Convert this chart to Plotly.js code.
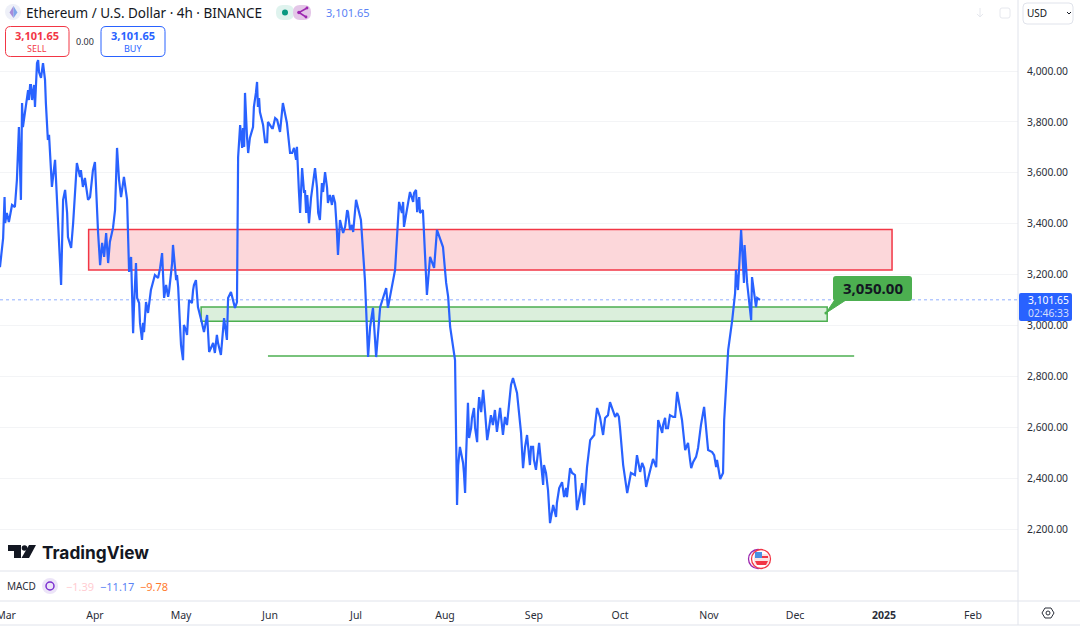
<!DOCTYPE html>
<html><head><meta charset="utf-8">
<script src="https://cdn.plot.ly/plotly-3.0.1.min.js"></script>
<style>html,body{margin:0;padding:0;background:#fff;overflow:hidden}#c{width:1080px;height:626px}</style>
</head><body><div id="c"></div>
<script>
// Days since 2024-03-01 and the ETH/USD close
const dayOffsets = [-2.1,-1.4,-1.0,-0.5,-0.3,0.3,1.0,2.1,3.1,3.8,4.5,5.2,5.6,5.9,7.3,8.4,9.1,10.1,10.8,11.2,11.9,12.9,13.6,13.9,14.3,15.3,16.0,17.1,17.8,18.1,19.2,19.9,20.6,21.3,21.6,22.7,23.4,24.7,26.5,27.5,28.6,29.3,31.0,31.7,32.1,32.8,33.5,34.2,34.9,35.6,36.2,37.3,38.0,38.7,39.4,40.1,41.1,42.2,42.5,42.9,43.6,44.3,45.3,45.7,46.4,47.4,49.1,49.5,50.5,51.9,53.0,54.4,55.1,55.8,56.5,57.9,58.2,59.3,60.0,60.6,61.0,61.7,62.0,62.7,63.8,65.2,66.2,66.9,68.3,69.0,70.1,70.8,72.2,73.5,74.9,76.0,77.0,77.4,78.4,79.8,80.5,80.9,81.6,82.3,83.3,84.4,86.1,87.5,88.5,90.3,91.3,92.7,94.5,95.5,96.5,97.9,99.0,101.4,102.5,103.2,104.2,105.6,106.7,107.7,109.4,111.2,112.2,114.0,115.7,116.4,117.5,118.9,121.0,122.0,123.7,125.1,126.2,126.9,127.9,129.0,130.4,132.5,133.1,135.6,136.3,137.0,138.7,140.8,142.9,144.3,145.3,146.4,146.7,147.8,149.2,150.2,151.3,152.3,153.4,154.1,154.8,156.5,157.2,158.2,160.0,161.0,161.4,163.1,164.2,164.9,165.6,166.3,167.7,169.0,170.4,171.1,172.2,173.2,175.0,176.0,176.7,178.1,179.5,180.2,181.6,182.6,183.7,184.7,185.8,187.2,187.5,188.9,189.6,190.7,191.7,193.8,194.5,196.6,198.3,199.0,200.8,201.5,202.5,203.6,205.3,206.0,208.1,210.5,213.0,214.0,215.1,216.5,217.8,219.9,221.0,222.4,223.1,224.8,225.5,226.6,227.3,228.7,229.7,230.7,231.4,233.2,233.9,235.6,236.7,237.7,238.8,241.2,242.2,243.3,244.7,246.1,247.5,248.9,249.9,250.3,251.3,251.7,253.1,254.1,254.4,255.1,256.2,256.9,257.2,257.4,258.3,259.7,260.0,261.4,261.8,262.8];
const prices = [3230,3297,3344,3505,3403,3443,3407,3474,3466,3572,3780,3494,3874,3780,3898,3945,3886,3859,4031,4043,3976,4031,3965,3874,3749,3690,3545,3651,3494,3427,3160,3494,3533,3443,3348,3305,3403,3639,3560,3580,3494,3505,3643,3454,3364,3238,3325,3270,3364,3246,3329,3384,3454,3698,3572,3505,3584,3494,3364,3211,3270,2971,3246,3109,3089,2944,3073,3050,3140,3199,3187,3285,3109,3160,3113,3246,3317,3179,3152,3011,2924,2865,3003,2983,3101,3140,3179,3073,3011,2975,3042,2897,2932,2964,2885,3030,2944,3109,3132,3070,3093,3662,3788,3698,3914,3678,3780,3957,3839,3721,3800,3776,3808,3761,3874,3796,3678,3702,3443,3619,3533,3403,3533,3619,3415,3603,3482,3513,3278,3415,3364,3454,3368,3494,3415,3179,2877,2995,3070,2877,3073,3148,3070,3219,3376,3486,3388,3525,3533,3443,3454,3168,3121,3270,3227,3376,3337,3309,3168,3113,2995,2865,2296,2524,2343,2697,2559,2677,2543,2720,2661,2748,2551,2649,2669,2583,2677,2571,2657,2767,2795,2736,2579,2441,2571,2453,2524,2434,2540,2375,2453,2355,2225,2296,2249,2386,2327,2441,2414,2276,2382,2296,2445,2551,2610,2677,2571,2700,2657,2598,2453,2343,2422,2492,2426,2441,2367,2453,2477,2445,2630,2579,2638,2598,2649,2642,2740,2630,2512,2540,2441,2520,2610,2681,2512,2504,2445,2398,2422,2630,2838,2905,3022,3128,3219,3140,3376,3250,3168,3317,3168,3022,3191,3073,3109,3101.65];
const swingDays = [7.7,8.0,8.7,9.8,11.5,12.2,14.6,15.0,25.8,26.1,26.8,28.2,30.3,44.6,46.7,47.8,48.1,48.8,51.2,53.7,56.8,59.6,63.1,64.8,65.5,72.5,72.8,73.9,82.6,83.0,83.6,84.0,85.0,86.4,87.1,87.8,88.2,89.6,90.0,91.0,93.0,93.8,99.7,100.4,101.1,102.1,103.9,104.6,105.0,106.3,107.0,108.4,108.8,110.1,110.5,111.9,112.9,113.6,114.7,115.3,118.2,119.2,119.9,120.6,138.0,138.4,140.1,141.9,142.2,143.3,144.0,157.6,159.3,159.6,160.3,162.1,162.4,163.5,164.5,167.0,168.0,168.7,169.7,173.9,174.6,180.9,183.0,184.0,188.2,192.0,192.8,195.2,195.5,197.3,204.2,205.0,207.0,207.6,208.8,209.8,211.6,212.3,213.6,216.8,219.2,221.7,224.1,229.0,230.0,232.5,238.4,239.5,240.5,246.8,247.8];
const swingPrices = [3925,3886,3945,3945,3996,3973,3729,3749,3584,3611,3545,3533,3611,3073,3011,3011,2975,3093,3168,3226,3132,3199,2964,3089,3160,2905,2893,2932,3776,3702,3800,3741,3737,3859,3914,3859,3894,3788,3749,3721,3776,3815,3678,3698,3651,3525,3521,3443,3513,3501,3560,3541,3443,3560,3525,3541,3513,3474,3482,3376,3388,3446,3376,3396,3443,3486,3482,3486,3521,3446,3505,2453,2461,2422,2473,2598,2638,2598,2657,2657,2571,2618,2610,2642,2610,2524,2524,2473,2422,2304,2363,2363,2327,2422,2559,2571,2642,2610,2638,2649,2669,2642,2642,2363,2414,2461,2414,2610,2598,2642,2473,2465,2485,2492,2473];

const lastPrice = 3101.65;
const targetPrice = 3050;
const resistanceZone = {from:28.8, to:308.8, low:3219, high:3378};
const supportZone = {from:68, to:286.2, low:3018, high:3073};
const floorLine = {from:91.3, to:295.6, price:2881};

const monthTicks = ['2024-03-01','2024-04-01','2024-05-01','2024-06-01','2024-07-01','2024-08-01','2024-09-01','2024-10-01','2024-11-01','2024-12-01','2025-01-01','2025-02-01'];
const monthLabels = ['Mar','Apr','May','Jun','Jul','Aug','Sep','Oct','Nov','Dec','<b>2025</b>','Feb'];
const priceTicks = [2200,2400,2600,2800,3000,3200,3400,3600,3800,4000];

const W=1080,H=626;
const BASE=Date.UTC(2024,2,1);
const toDate=d=>new Date(BASE+d*86400000).toISOString().slice(0,19).replace('T',' ');
const px=x=>x/W, py=y=>1-y/H;
const UI='"Noto Sans", "Open Sans", sans-serif';
const BLUE='#2962ff',RED='#f23645',GREEN='#4caf50',FRAME='#e0e3eb';

function poly(pts,close=true){return pts.map((p,i)=>(i?'L':'M')+px(p[0]).toFixed(5)+','+py(p[1]).toFixed(5)).join(' ')+(close?' Z':'');}
function rrect(x0,y0,x1,y1,r){
  const X=px,Y=py;
  return `M${X(x0+r)},${Y(y0)} L${X(x1-r)},${Y(y0)} Q${X(x1)},${Y(y0)} ${X(x1)},${Y(y0+r)} L${X(x1)},${Y(y1-r)} Q${X(x1)},${Y(y1)} ${X(x1-r)},${Y(y1)} L${X(x0+r)},${Y(y1)} Q${X(x0)},${Y(y1)} ${X(x0)},${Y(y1-r)} L${X(x0)},${Y(y0+r)} Q${X(x0)},${Y(y0)} ${X(x0+r)},${Y(y0)} Z`;
}
const chrome=(path,fill,line,lw=1)=>({type:'path',xref:'paper',yref:'paper',path,fillcolor:fill||'rgba(0,0,0,0)',line:{color:line||'rgba(0,0,0,0)',width:line?lw:0},layer:'above'});
const circle=(cx,cy,r,fill,line,lw=1)=>({type:'circle',xref:'paper',yref:'paper',x0:px(cx-r),x1:px(cx+r),y0:py(cy+r),y1:py(cy-r),fillcolor:fill||'rgba(0,0,0,0)',line:{color:line||'rgba(0,0,0,0)',width:line?lw:0},layer:'above'});
const hline=(y,x0,x1,c=FRAME)=>({type:'line',xref:'paper',yref:'paper',x0:px(x0),x1:px(x1),y0:py(y),y1:py(y),line:{color:c,width:1},layer:'above'});
const vline=(x,y0,y1,c=FRAME)=>({type:'line',xref:'paper',yref:'paper',x0:px(x),x1:px(x),y0:py(y0),y1:py(y1),line:{color:c,width:1},layer:'above'});

const shapes=[
  {type:'rect',xref:'x',yref:'y',x0:toDate(resistanceZone.from),x1:toDate(resistanceZone.to),y0:resistanceZone.low,y1:resistanceZone.high,fillcolor:'rgba(242,54,69,0.2)',line:{color:RED,width:1.5},layer:'below'},
  {type:'rect',xref:'x',yref:'y',x0:toDate(supportZone.from),x1:toDate(supportZone.to),y0:supportZone.low,y1:supportZone.high,fillcolor:'rgba(76,175,80,0.2)',line:{color:GREEN,width:1.5},layer:'below'},
  {type:'line',xref:'x',yref:'y',x0:toDate(floorLine.from),x1:toDate(floorLine.to),y0:floorLine.price,y1:floorLine.price,line:{color:GREEN,width:1.5},layer:'below'},
  {type:'line',xref:'paper',yref:'y',x0:0,x1:px(1018),y0:lastPrice,y1:lastPrice,line:{color:'#2962ff',width:1,dash:'dot'},opacity:.5,layer:'below'},
  hline(571,0,1018),hline(601,0,1080),hline(625,0,1080),vline(1018,0,625),
  chrome(poly([[826,313],[836,298],[846,300]]),GREEN,GREEN,1),
  chrome(rrect(833,276,912,301,3),GREEN),
  circle(826,313,1.6,GREEN),
  chrome(rrect(1019,293,1072,321,2),BLUE),
  circle(13,12,8,'#eef0f8'),
  chrome(poly([[13.5,6],[9.5,12.5],[13.5,18]]),'#a78bda'),
  chrome(poly([[13.5,6],[17.5,12.5],[13.5,18]]),'#7fa4ea'),
  chrome(rrect(276,5,294,20,7),'#dff3ee'),
  chrome(rrect(293,5,311,20,7),'#e4c6e8'),
  circle(285,12.5,3,'#089981'),
  chrome(poly([[307,8],[299,12.5],[306,17]],false),null,'#9c27b0',1.5),
  circle(299,12.5,1.8,'#9c27b0'),circle(307,8,1.4,'#9c27b0'),circle(306,17,1.4,'#9c27b0'),
  chrome(rrect(5.5,26.5,69,56.5,5),'#fff',RED),
  chrome(rrect(101,26.5,165,56.5,5),'#fff',BLUE),
  chrome(rrect(1023,3,1073,24,4),'#fff',FRAME),
  chrome(poly([[1067,12],[1069,14],[1071,12]],false),null,'#131722',1),
  chrome(poly([[980,8],[980,17],[977,14],[980,17],[983,14]],false),null,'#e6e8ee',1),
  chrome(rrect(1000,8,1010,18,2),null,'#e6e8ee',1),
  chrome(poly([[8,545],[21,545],[21,558],[14,558],[14,551],[8,551]]),'#131722'),
  circle(24.5,548,2.8,'#131722'),
  chrome(poly([[29,545],[36,545],[29,558],[21.5,558]]),'#131722'),
  circle(50,586,8,'#ece4f8'),
  circle(50,586,4,null,'#7b2fd0',1.5),
  circle(758,559,9.5,'#fff','#9c27b0',1.3),
  circle(761,559,9.5,'#fff','#f23645',1.3),
  chrome(rrect(754,554,769,565,3),'#fbe3e3'),
  chrome(poly([[755,561],[768,561],[766,565],[757,565]]),'#f23645'),
  chrome(poly([[755,556],[768,556],[768,558],[755,558]]),'#f23645'),
  chrome(poly([[755,552],[762,552],[762,558],[755,558]]),'#4a90e2'),
  chrome(poly([[1042,613],[1045,608],[1051,608],[1054,613],[1051,618],[1045,618]]),null,'#2a2e39',1),
  circle(1048,613,2,null,'#2a2e39',1)
];

const label=(x,y,text,size,color,anchor='left',extra={})=>Object.assign({xref:'paper',yref:'paper',x:px(x),y:py(y),text,showarrow:false,xanchor:anchor,yanchor:'middle',borderpad:0,font:{family:UI,size,color}},extra);
const annotations=[
  label(25,12.5,'Ethereum / U.S. Dollar · 4h · BINANCE',13.5,'#131722'),
  label(325,12.5,'3,101.65',11,'#5b83f5'),
  label(37,36,'<b>3,101.65</b>',11,RED,'center'),
  label(37,48,'SELL',9,RED,'center'),
  label(85,41.5,'0.00',9,'#2a2e39','center'),
  label(133,36,'<b>3,101.65</b>',11,BLUE,'center'),
  label(133,48,'BUY',9,BLUE,'center'),
  label(1026,13.5,'USD',10,'#131722'),
  label(41,552.5,'<b>TradingView</b>',17.3,'#131722','left',{font:{family:'Inter, "Noto Sans", sans-serif',size:17.3,color:'#131722'}}),
  label(6,586,'MACD',10,'#2a2e39'),
  label(65,586,'−1.39',11,'#ffcdd2'),
  label(99,586,'−11.17',11,'#5b83f5'),
  label(139,586,'−9.78',11,'#ff7b2e'),
  label(872.5,288,'<b>3,050.00</b>',15,'#131722','center'),
  label(1027,300,'3,101.65',10.3,'#ffffff'),
  label(1027,313,'02:46:33',10.3,'#d4dffb')
];

// merge main read-offs and swing read-offs into date order
const merged=dayOffsets.map((d,i)=>[d,prices[i]]).concat(swingDays.map((d,i)=>[d,swingPrices[i]])).sort((a,b)=>a[0]-b[0]);
const trace={x:merged.map(p=>toDate(p[0])),y:merged.map(p=>p[1]),type:'scatter',mode:'lines',line:{color:BLUE,width:2.2},hoverinfo:'skip'};

const layout={
  width:W,height:H,margin:{l:0,r:0,t:0,b:0},paper_bgcolor:'#fff',plot_bgcolor:'#fff',showlegend:false,
  xaxis:{domain:[0,1018/W],anchor:'free',position:py(601),type:'date',range:[toDate(-2.09),toDate(352.7)],tickmode:'array',tickvals:monthTicks,ticktext:monthLabels,showgrid:false,zeroline:false,showline:false,
    ticks:'outside',ticklen:4,tickcolor:'rgba(0,0,0,0)',tickfont:{family:UI,size:10.5,color:'#2a2e39'},ticklabeloverflow:'allow'},
  yaxis:{domain:[py(571),1],anchor:'x',side:'right',range:[4000-(571-71)*3.926,4000+71*3.926],tickmode:'array',tickvals:priceTicks,tickformat:',.2f',
    gridcolor:'#f3f4f6',gridwidth:1,zeroline:false,showline:false,ticks:'outside',ticklen:6,tickcolor:'rgba(0,0,0,0)',tickfont:{family:UI,size:10.3,color:'#2a2e39'}},
  shapes,annotations
};
Plotly.newPlot('c',[trace],layout,{displayModeBar:false,staticPlot:true});
</script></body></html>
